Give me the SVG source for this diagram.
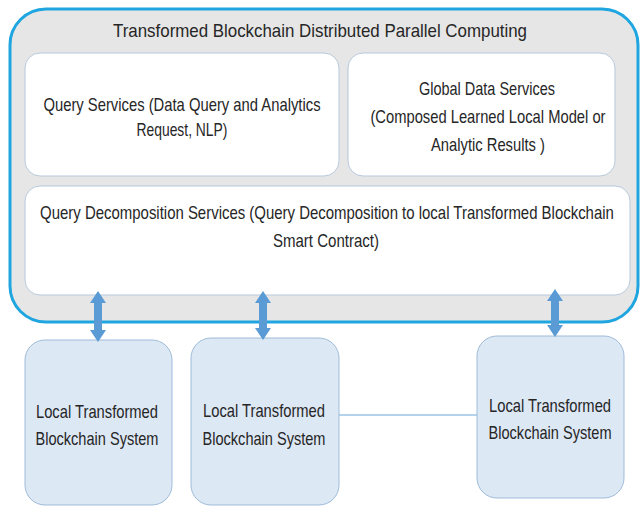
<svg xmlns="http://www.w3.org/2000/svg" width="641" height="506" viewBox="0 0 641 506">
  <style>
    .lbl { font-family: "Liberation Sans", Arial, sans-serif; font-size: 18px; fill: #262626; text-anchor: middle; }
    .svc { fill: #ffffff; stroke: #b7c9dc; stroke-width: 1; }
    .local { fill: #dde8f5; stroke: #9fbcd9; stroke-width: 1; }
    .arrow { fill: #5b9bd5; }
    .link { stroke: #9dc3e6; stroke-width: 1.5; fill: none; }
  </style>
  <rect width="641" height="506" fill="#ffffff"/>

  <!-- platform container; labels are drawn in a horizontally condensed frame (x scaled by 0.85) -->
  <g id="platform">
    <rect x="10" y="9" width="628" height="313" rx="36" ry="36" fill="#e6e6e6" stroke="#1fa5e0" stroke-width="3"/>
    <text class="lbl" transform="scale(0.85 1)" x="376.5" y="37" textLength="487" lengthAdjust="spacingAndGlyphs">Transformed Blockchain Distributed Parallel Computing</text>
  </g>

  <g id="query-services">
    <rect class="svc" x="25" y="53" width="314" height="123" rx="15" ry="15"/>
    <text class="lbl" transform="scale(0.85 1)" x="214.1" y="111" textLength="326" lengthAdjust="spacingAndGlyphs">Query Services (Data Query and Analytics</text>
    <text class="lbl" transform="scale(0.85 1)" x="214.1" y="136" textLength="107" lengthAdjust="spacingAndGlyphs">Request, NLP)</text>
  </g>

  <g id="global-data-services">
    <rect class="svc" x="348" y="53" width="267" height="123" rx="15" ry="15"/>
    <text class="lbl" transform="scale(0.85 1)" x="572.9" y="95" textLength="160" lengthAdjust="spacingAndGlyphs">Global Data Services</text>
    <text class="lbl" transform="scale(0.85 1)" x="574.1" y="123" textLength="276.5" lengthAdjust="spacingAndGlyphs">(Composed Learned Local Model or</text>
    <text class="lbl" transform="scale(0.85 1)" x="574.1" y="151" textLength="134" lengthAdjust="spacingAndGlyphs">Analytic Results )</text>
  </g>

  <g id="query-decomposition">
    <rect class="svc" x="25" y="186" width="605" height="109" rx="15" ry="15"/>
    <text class="lbl" transform="scale(0.85 1)" x="384.7" y="219" textLength="675" lengthAdjust="spacingAndGlyphs">Query Decomposition Services (Query Decomposition to local Transformed Blockchain</text>
    <text class="lbl" transform="scale(0.85 1)" x="383.5" y="247" textLength="124.7" lengthAdjust="spacingAndGlyphs">Smart Contract)</text>
  </g>

  <!-- local systems -->
  <g id="local-1">
    <rect class="local" x="25" y="340" width="147" height="165" rx="20" ry="20"/>
    <text class="lbl" transform="scale(0.85 1)" x="114.1" y="418" textLength="143.5" lengthAdjust="spacingAndGlyphs">Local Transformed</text>
    <text class="lbl" transform="scale(0.85 1)" x="114.1" y="445" textLength="144.7" lengthAdjust="spacingAndGlyphs">Blockchain System</text>
  </g>
  <g id="local-2">
    <rect class="local" x="191" y="338" width="148" height="167" rx="20" ry="20"/>
    <text class="lbl" transform="scale(0.85 1)" x="310.6" y="417" textLength="143.5" lengthAdjust="spacingAndGlyphs">Local Transformed</text>
    <text class="lbl" transform="scale(0.85 1)" x="310.6" y="445" textLength="144.7" lengthAdjust="spacingAndGlyphs">Blockchain System</text>
  </g>
  <g id="local-3">
    <rect class="local" x="477" y="336" width="147" height="162" rx="20" ry="20"/>
    <text class="lbl" transform="scale(0.85 1)" x="647.1" y="412" textLength="143.5" lengthAdjust="spacingAndGlyphs">Local Transformed</text>
    <text class="lbl" transform="scale(0.85 1)" x="647.1" y="439" textLength="144.7" lengthAdjust="spacingAndGlyphs">Blockchain System</text>
  </g>

  <!-- connectors -->
  <g id="connectors">
    <line class="link" x1="339" y1="415" x2="477" y2="415"/>
    <!-- double-headed block arrows: tip, head, shaft, head, tip -->
    <polygon class="arrow" points="98,291 106,303 102,303 102,330 106,330 98,342 90,330 94,330 94,303 90,303"/>
    <polygon class="arrow" points="263,291 271,303 267,303 267,328 271,328 263,340 255,328 259,328 259,303 255,303"/>
    <polygon class="arrow" points="555,289 563,301 559,301 559,325 563,325 555,337 547,325 551,325 551,301 547,301"/>
  </g>
</svg>
